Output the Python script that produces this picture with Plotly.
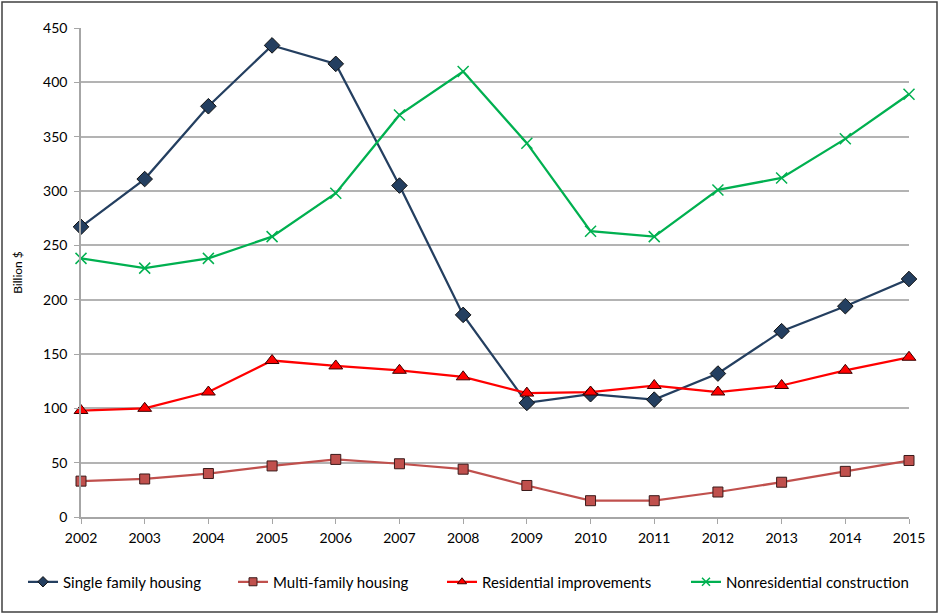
import plotly.graph_objects as go

years = list(range(2002, 2016))
single_family = [267, 311, 378, 434, 417, 305, 186, 105, 113, 108, 132, 171, 194, 219]
multi_family = [33, 35, 40, 47, 53, 49, 44, 29, 15, 15, 23, 32, 42, 52]
residential_impr = [98, 100, 115, 144, 139, 135, 129, 114, 115, 121, 115, 121, 135, 147]
nonresidential = [238, 229, 238, 258, 298, 370, 410, 344, 263, 258, 301, 312, 348, 389]

L, R, T, B = 81, 31, 28, 99
PW, PH = 940 - L - R, 616 - T - B

series = [
    ("Single family housing", single_family, "#243F60", dict(symbol="diamond", size=12, color="#243F60", line=dict(color="#111111", width=1)), 8),
    ("Multi-family housing", multi_family, "#C0504D", dict(symbol="square", size=10, color="#C0504D", line=dict(color="#3a1a1a", width=1)), 8),
    ("Residential improvements", residential_impr, "#FF0000", dict(symbol="triangle-up", size=12, color="#FF0000", line=dict(color="#3a0000", width=1)), 8),
    ("Nonresidential construction", nonresidential, "#00B050", dict(symbol="x-thin", size=11, color="#00B050", line=dict(color="#00B050", width=1.5)), 8),
]
legend_px = [23, 233, 442, 686]

fig = go.Figure()
legends = {}
for i, (name, vals, col, mk, lsize) in enumerate(series):
    lg = "legend" if i == 0 else f"legend{i+1}"
    fig.add_trace(go.Scatter(x=years, y=vals, name=name, mode="lines+markers",
                             line=dict(color=col, width=2.25), marker=mk, cliponaxis=False,
                             showlegend=False))
    # legend-only entry with smaller symbol, as in the reference
    lmk = dict(mk)
    lmk["size"] = lsize
    fig.add_trace(go.Scatter(x=[None], y=[None], name=name, mode="lines+markers",
                             line=dict(color=col, width=2.25), marker=lmk, legend=lg))
    legends[lg] = dict(orientation="h", x=(legend_px[i] - L) / PW, xanchor="left",
                       y=-(582 - (T + PH)) / PH, yanchor="middle",
                       font=dict(size=15), itemwidth=30, bgcolor="rgba(0,0,0,0)")

font = "Lato, Open Sans, sans-serif"
fig.update_layout(
    width=940, height=616,
    margin=dict(l=L, r=R, t=T, b=B),
    paper_bgcolor="white", plot_bgcolor="white",
    font=dict(family=font, size=14, color="black"),
    showlegend=True,
    xaxis=dict(range=[2002, 2015], tickmode="linear", tick0=2002, dtick=1,
               showgrid=False, showline=True, linecolor="#A6A6A6", linewidth=1.5,
               ticks="outside", ticklen=5, tickcolor="#A6A6A6", zeroline=False,
               tickfont=dict(size=14), ticklabelstandoff=2),
    yaxis=dict(range=[0, 450], dtick=50, showgrid=True, gridcolor="#B3B3B3", gridwidth=1.5,
               showline=True, linecolor="#A6A6A6", linewidth=1.5, ticks="outside",
               ticklen=5, tickcolor="#A6A6A6", zeroline=False, ticklabelstandoff=4,
               title=dict(text="Billion $", font=dict(size=12), standoff=18),
               tickfont=dict(size=14)),
    shapes=[dict(type="rect", xref="paper", yref="paper",
                 x0=-(L - 2) / PW, x1=(937 - L) / PW, y0=-(612 - (T + PH)) / PH, y1=(T + PH - 2) / PH,
                 line=dict(color="#404040", width=1.5), fillcolor="rgba(0,0,0,0)")],
    **legends,
)

fig.write_html("out.html", config={"displayModeBar": False},
               post_script="document.body.style.margin='0';document.body.style.overflow='hidden';")
